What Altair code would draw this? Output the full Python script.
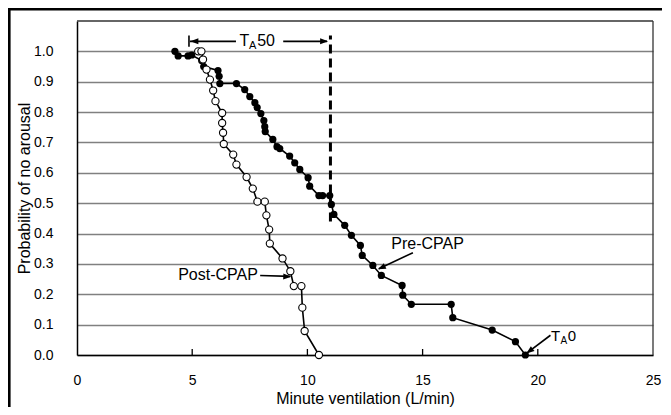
import altair as alt
import pandas as pd

# ---- data ----
pre_x = [4.25, 4.39, 4.82, 4.98, 5.41, 5.5, 6.12, 6.17, 6.2, 6.92, 7.28, 7.5, 7.72, 7.82,
         7.98, 8.11, 8.15, 8.17, 8.5, 8.68, 8.8, 9.23, 9.45, 9.67, 10.03, 10.1, 10.5, 10.66,
         10.97, 11.04, 11.15, 11.62, 11.91, 12.3, 12.38, 12.84, 13.21, 14.11, 14.14, 14.51,
         16.24, 16.31, 18.02, 19.03, 19.46]
pre_y = [1.0, 0.985, 0.985, 0.988, 0.97, 0.95, 0.937, 0.918, 0.894, 0.894, 0.874, 0.851,
         0.831, 0.815, 0.795, 0.772, 0.752, 0.736, 0.71, 0.686, 0.68, 0.655, 0.633, 0.611,
         0.584, 0.556, 0.525, 0.525, 0.525, 0.496, 0.463, 0.427, 0.394, 0.361, 0.328, 0.295,
         0.262, 0.229, 0.197, 0.167, 0.167, 0.123, 0.082, 0.044, 0.0]

post_x = [5.26, 5.4, 5.47, 5.62, 5.77, 5.91, 6.01, 6.3, 6.3, 6.34, 6.37, 6.78, 6.92, 7.36,
          7.63, 7.83, 8.15, 8.22, 8.34, 8.37, 8.92, 9.26, 9.41, 9.74, 9.78, 9.88, 10.5]
post_y = [1.0, 1.0, 0.973, 0.94, 0.907, 0.871, 0.836, 0.797, 0.764, 0.732, 0.695, 0.66,
          0.627, 0.586, 0.548, 0.505, 0.505, 0.46, 0.413, 0.367, 0.318, 0.276, 0.227, 0.227,
          0.156, 0.079, 0.0]

x_ticks = [0, 5, 10, 15, 20, 25]
x_inner_ticks = [5, 10, 15, 20]
y_ticks = [0.0, 0.1, 0.2, 0.3, 0.4, 0.5, 0.6, 0.7, 0.8, 0.9, 1.0]

# TA50 marker (dashed vertical)
ta50_x = [11.0]
ta50_y = [0.44]
ta50_y2 = [1.052]

# annotation line segments
seg_x = [4.9, 8.95, 4.86, 14.58, 7.95, 20.55]
seg_x2 = [6.9, 10.85, 4.86, 13.1, 9.25, 19.55]
seg_y = [1.033, 1.033, 1.015, 0.337, 0.262, 0.065]
seg_y2 = [1.033, 1.033, 1.052, 0.284, 0.259, 0.008]

# arrow heads (tip position + direction in degrees, clockwise from up)
head_x = [4.92, 10.9, 13.06, 9.3, 19.5]
head_y = [1.033, 1.033, 0.282, 0.258, 0.005]
head_angle = [270, 90, 244.5, 92, 233]

# text annotations (left-aligned)
lt_text = ["T", "A", "50", "Pre-CPAP", "T", "A", "0"]
lt_x = [7.05, 7.47, 7.82, 13.64, 20.57, 20.98, 21.3]
lt_y = [1.033, 1.018, 1.033, 0.367, 0.062, 0.047, 0.062]
lt_size = [16, 11, 16, 16, 15, 10, 15]
# text annotations (right-aligned)
rt_text = ["Post-CPAP"]
rt_x = [7.85]
rt_y = [0.262]
rt_size = [16]

FONT = "Liberation Sans"
W, H = 576, 334

pre = pd.DataFrame({"x": pre_x, "y": pre_y, "i": list(range(len(pre_x)))})
post = pd.DataFrame({"x": post_x, "y": post_y, "i": list(range(len(post_x)))})
segs = pd.DataFrame({"x": seg_x, "x2": seg_x2, "y": seg_y, "y2": seg_y2})
heads = pd.DataFrame({"x": head_x, "y": head_y, "a": head_angle})
ltxt = pd.DataFrame({"t": lt_text, "x": lt_x, "y": lt_y, "s": lt_size})
rtxt = pd.DataFrame({"t": rt_text, "x": rt_x, "y": rt_y, "s": rt_size})
ta50 = pd.DataFrame({"x": ta50_x, "y": ta50_y, "y2": ta50_y2})
itk = pd.DataFrame({"x": x_inner_ticks})
one = pd.DataFrame({"k": [0]})

xs = alt.Scale(domain=[0, 25], nice=False, zero=False)
ys = alt.Scale(domain=[0, 1.1], nice=False, zero=False)

x_axis = alt.Axis(values=x_ticks, format="d", grid=False, ticks=False, labelFlush=False,
                  labelPadding=18, title="Minute ventilation (L/min)", titlePadding=3)
y_axis = alt.Axis(values=y_ticks, format=".1f", grid=True, ticks=False, labelFlush=False,
                  labelPadding=24, title="Probability of no arousal", titlePadding=1)

X = alt.X("x:Q", scale=xs, axis=x_axis)
Y = alt.Y("y:Q", scale=ys, axis=y_axis)

post_line = alt.Chart(post).mark_line(color="black", strokeWidth=1.6).encode(x=X, y=Y, order="i:Q")
pre_line = alt.Chart(pre).mark_line(color="black", strokeWidth=1.6).encode(x=X, y=Y, order="i:Q")
pre_pts = alt.Chart(pre).mark_point(filled=True, color="black", size=52, opacity=1, shape="circle").encode(x=X, y=Y)
post_pts = alt.Chart(post).mark_point(filled=True, fill="white", stroke="black", strokeWidth=1.1,
                                      size=52, opacity=1, shape="circle").encode(x=X, y=Y)

inner_ticks = alt.Chart(itk).mark_rule(color="black", strokeWidth=1.3).encode(
    x=X, y=alt.value(H), y2=alt.value(H - 6))

dashed = alt.Chart(ta50).mark_rule(color="black", strokeWidth=3, strokeDash=[9, 5]).encode(
    x=X, y=Y, y2="y2:Q")

seg_layer = alt.Chart(segs).mark_rule(color="black", strokeWidth=1.6).encode(
    x=X, x2="x2:Q", y=Y, y2="y2:Q")

head_layer = alt.Chart(heads).mark_point(filled=True, color="black", opacity=1, size=64,
                                          shape="M0,0L-0.75,2L0.75,2Z").encode(
    x=X, y=Y, angle=alt.Angle("a:Q", scale=None))

ltext_layer = alt.Chart(ltxt).mark_text(align="left", baseline="middle", font=FONT, color="black").encode(
    x=X, y=Y, text="t:N", size=alt.Size("s:Q", scale=None, legend=None))
rtext_layer = alt.Chart(rtxt).mark_text(align="right", baseline="middle", font=FONT, color="black").encode(
    x=X, y=Y, text="t:N", size=alt.Size("s:Q", scale=None, legend=None))

# plot box: top and right edges
box_top = alt.Chart(one).mark_rule(color="#333333", strokeWidth=1.3).encode(
    x=alt.value(0), x2=alt.value(W), y=alt.value(0))
box_right = alt.Chart(one).mark_rule(color="#333333", strokeWidth=1.3).encode(
    x=alt.value(W), y=alt.value(0), y2=alt.value(H))

# white strip along the far right edge of the figure
edge_cover = alt.Chart(one).mark_rect(color="white", opacity=1).encode(
    x=alt.value(W + 8.6), x2=alt.value(W + 14), y=alt.value(-13), y2=alt.value(H + 70))

# outer figure frame (top and left edges)
frame_top = alt.Chart(one).mark_rule(color="black", strokeWidth=2.6).encode(
    x=alt.value(-69), x2=alt.value(W + 40), y=alt.value(-11.7))
frame_left = alt.Chart(one).mark_rule(color="black", strokeWidth=2.6).encode(
    x=alt.value(-67.7), y=alt.value(-13), y2=alt.value(H + 80))

chart = alt.layer(
    post_line, pre_line, inner_ticks, dashed, seg_layer, head_layer,
    pre_pts, post_pts, ltext_layer, rtext_layer, box_top, box_right, edge_cover,
    frame_top, frame_left
).properties(
    width=W, height=H,
    autosize=alt.AutoSizeParams(type="none"),
    padding={"left": 69, "top": 13, "right": 9, "bottom": 52},
    background="white",
).configure_view(
    strokeWidth=0
).configure_axis(
    domainColor="black", domainWidth=1.5,
    labelFont=FONT, labelFontSize=14, labelColor="black",
    titleFont=FONT, titleFontSize=16, titleFontWeight="normal", titleColor="black",
    gridColor="#808080", gridWidth=1.3,
)

chart.save("out.html", embed_options={"renderer": "svg", "actions": False})
